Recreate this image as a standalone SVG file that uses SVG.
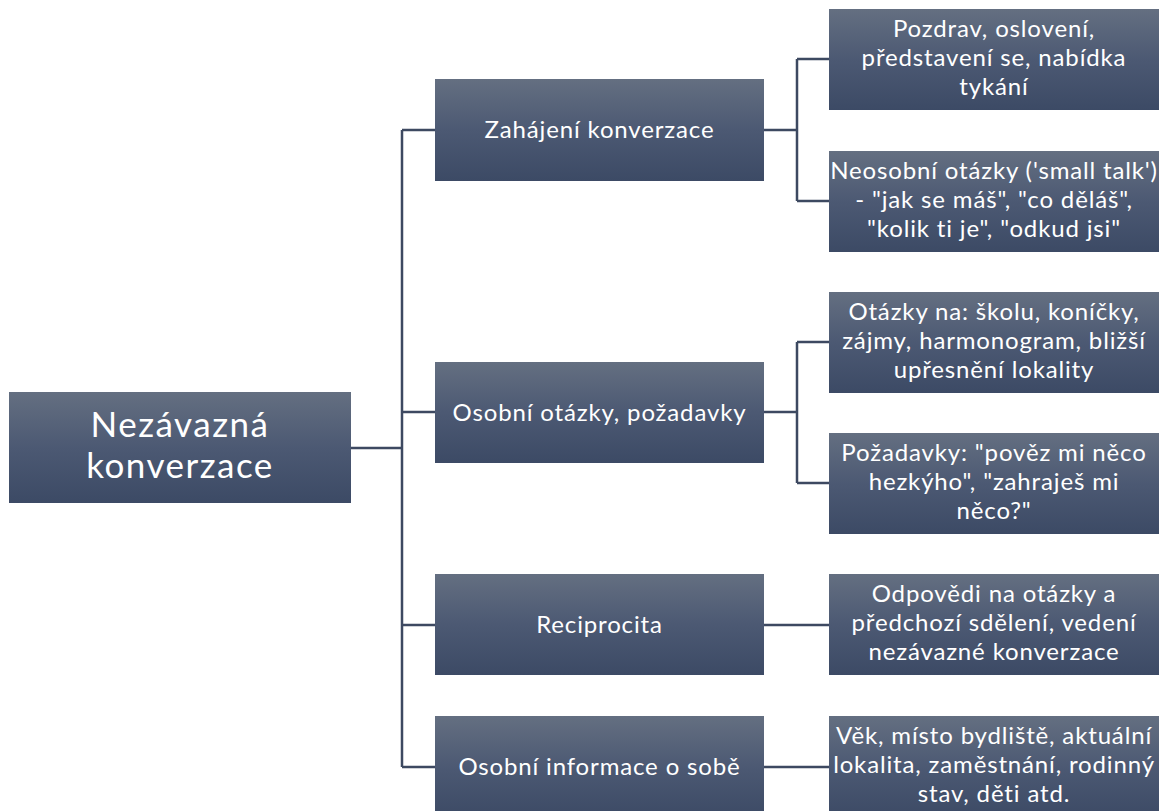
<svg xmlns="http://www.w3.org/2000/svg" width="1160" height="811" viewBox="0 0 1160 811">
<defs>
<linearGradient id="g" x1="0" y1="0" x2="0" y2="1">
<stop offset="0" stop-color="#646f81"/>
<stop offset="0.5" stop-color="#4c5973"/>
<stop offset="1" stop-color="#3c4a65"/>
</linearGradient>
<style>
.box{fill:url(#g);}
.t{font-family:Lato,"Open Sans",sans-serif;fill:#ffffff;text-anchor:middle;font-size:24px;letter-spacing:0.85px;}
.r{font-size:35px;letter-spacing:1.5px;}
.c{fill:none;stroke:#3d4961;stroke-width:2.5;}
</style>
</defs>
<rect width="1160" height="811" fill="#ffffff"/>
<g id="connectors">
<path class="c" d="M351,448 H402 M402,130 V767 M402,130 H435 M402,412 H435 M402,625 H435 M402,767 H435"/>
<path class="c" d="M764,130 H797 M797,59 V201 M797,59 H829 M797,201 H829"/>
<path class="c" d="M764,412 H797 M797,342 V483 M797,342 H829 M797,483 H829"/>
<path class="c" d="M764,625 H829 M764,767 H829"/>
</g>
<g id="root">
<rect class="box" x="9" y="392" width="342" height="111"/>
<text class="t r" x="180" y="437">Nezávazná</text>
<text class="t r" x="180" y="478">konverzace</text>
</g>
<g id="zahajeni">
<rect class="box" x="435" y="79" width="329" height="102"/>
<text class="t" x="599.5" y="138">Zahájení konverzace</text>
</g>
<g id="osobni-otazky">
<rect class="box" x="435" y="362" width="329" height="101"/>
<text class="t" x="599.5" y="420.5">Osobní otázky, požadavky</text>
</g>
<g id="reciprocita">
<rect class="box" x="435" y="574" width="329" height="101"/>
<text class="t" x="599.5" y="633">Reciprocita</text>
</g>
<g id="osobni-informace">
<rect class="box" x="435" y="716" width="329" height="102"/>
<text class="t" x="599.5" y="775">Osobní informace o sobě</text>
</g>
<g id="pozdrav">
<rect class="box" x="829" y="9" width="330" height="101"/>
<text class="t" x="994" y="37">Pozdrav, oslovení,</text>
<text class="t" x="994" y="66">představení se, nabídka</text>
<text class="t" x="994" y="95">tykání</text>
</g>
<g id="neosobni">
<rect class="box" x="829" y="151" width="330" height="101"/>
<text class="t" x="994" y="179">Neosobní otázky ('small talk')</text>
<text class="t" x="994" y="208">- "jak se máš", "co děláš",</text>
<text class="t" x="994" y="237">"kolik ti je", "odkud jsi"</text>
</g>
<g id="otazky-na">
<rect class="box" x="829" y="292" width="330" height="101"/>
<text class="t" x="994" y="320">Otázky na: školu, koníčky,</text>
<text class="t" x="994" y="349">zájmy, harmonogram, bližší</text>
<text class="t" x="994" y="378">upřesnění lokality</text>
</g>
<g id="pozadavky">
<rect class="box" x="829" y="433" width="330" height="101"/>
<text class="t" x="994" y="461">Požadavky: "pověz mi něco</text>
<text class="t" x="994" y="490">hezkýho", "zahraješ mi</text>
<text class="t" x="994" y="519">něco?"</text>
</g>
<g id="odpovedi">
<rect class="box" x="829" y="574" width="330" height="101"/>
<text class="t" x="994" y="602">Odpovědi na otázky a</text>
<text class="t" x="994" y="631">předchozí sdělení, vedení</text>
<text class="t" x="994" y="660">nezávazné konverzace</text>
</g>
<g id="vek">
<rect class="box" x="829" y="716" width="330" height="102"/>
<text class="t" x="994" y="744">Věk, místo bydliště, aktuální</text>
<text class="t" x="994" y="773">lokalita, zaměstnání, rodinný</text>
<text class="t" x="994" y="802">stav, děti atd.</text>
</g>
</svg>
